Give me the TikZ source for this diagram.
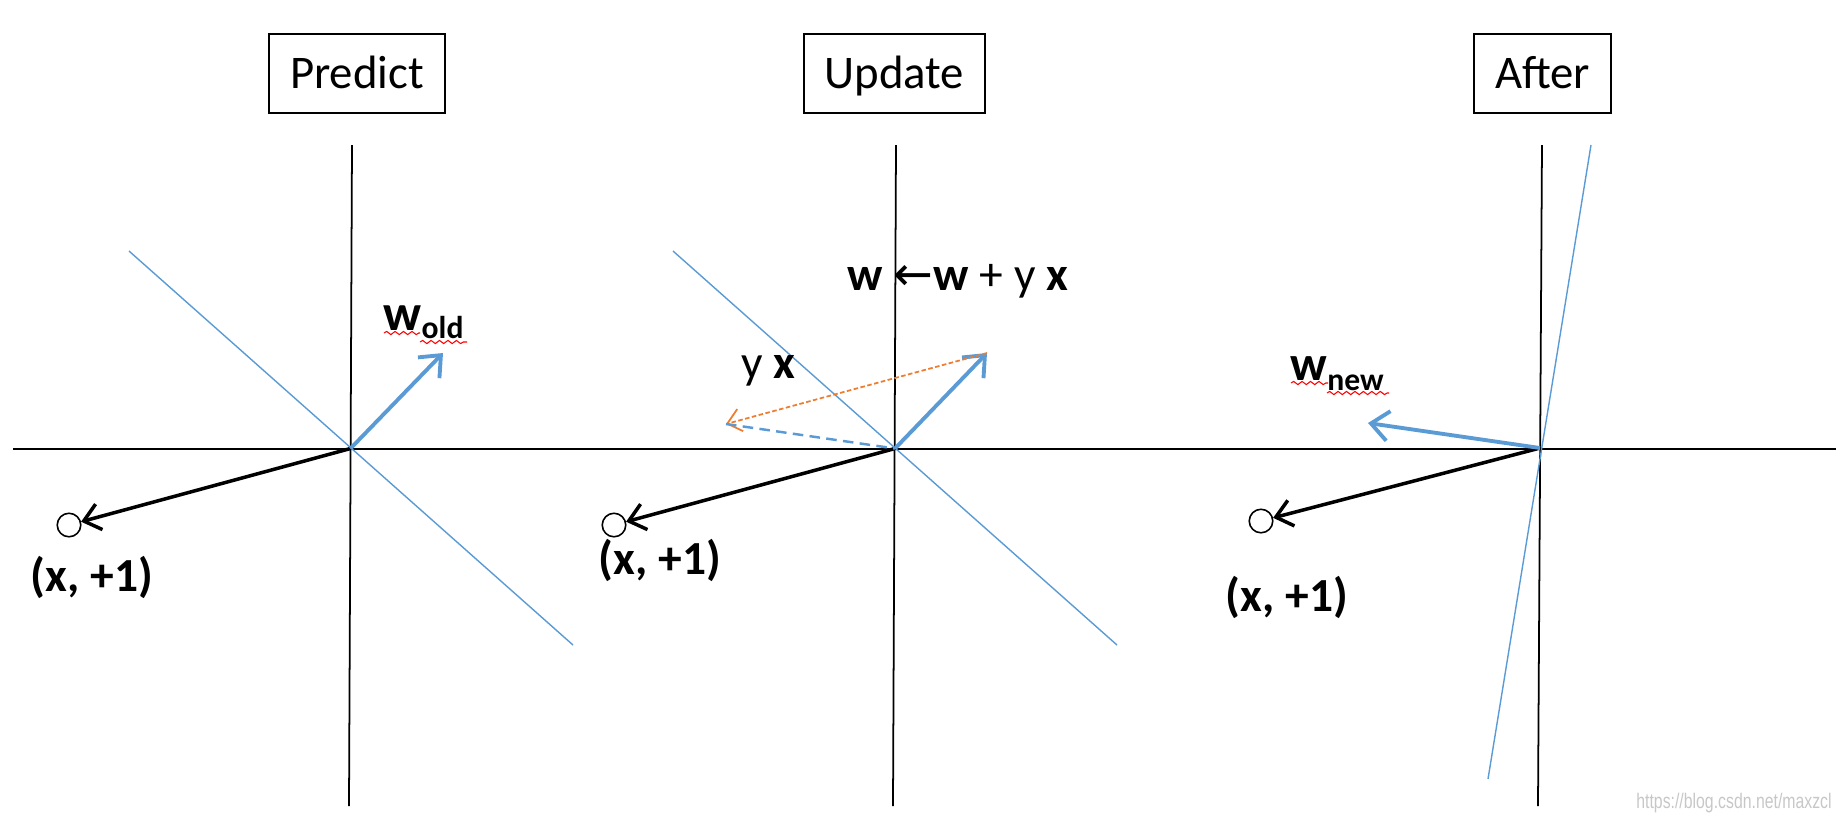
\documentclass[tikz,border=0pt]{standalone}
\usepackage{fontspec}
\setmainfont{Carlito}
\newfontfamily\arrowfont{DejaVu Sans}
\newfontfamily\wmfont{Liberation Sans}
\usetikzlibrary{arrows.meta,decorations.pathmorphing}
\definecolor{offblue}{RGB}{91,155,213}
\definecolor{offorange}{RGB}{237,125,49}
\begin{document}
\begin{tikzpicture}[x=0.01cm,y=-0.01cm,
  axis/.style={black, line width=0.5pt},
  sepline/.style={offblue, line width=0.4pt},
  wvec/.style={offblue, line width=1.1pt, -{Straight Barb[length=5pt,width=8.5pt]}},
  xvec/.style={black, line width=1pt, -{Straight Barb[length=4.5pt,width=7.5pt]}},
  ptnode/.style={circle, draw, line width=0.45pt, minimum size=0.235cm, inner sep=0pt},
  titlebox/.style={draw, line width=0.6pt, minimum height=0.79cm, inner xsep=0.21cm, text height=8.6pt, text depth=0pt, font=\fontsize{13.3}{16}\selectfont},
  lbl/.style={font=\fontsize{13.5}{16}\selectfont\bfseries, inner sep=0pt},
  txt/.style={font=\fontsize{13.5}{16}\selectfont, inner sep=0pt},
  squig/.style={red, line width=0.3pt, decorate, decoration={snake, amplitude=0.45pt, segment length=2.4pt}}]
\useasboundingbox (0,0) rectangle (1838,820);

% titles
\node[titlebox] (tp) at (357,73.5) {Predict};
\node[titlebox] (tu) at (894.5,73.5) {Update};
\node[titlebox] (ta) at (1542.5,73.5) {After};

% horizontal axis
\coordinate (hl) at (13,449);
\coordinate (hr) at (1836,449);
\draw[axis] (hl) -- (hr);

% origins
\coordinate (O1) at (350.5,448.5);
\coordinate (O2) at (895,448.5);
\coordinate (O3) at (1540,448);

% vertical axes
\coordinate (v1t) at (352,145); \coordinate (v1b) at (349,806);
\coordinate (v2t) at (896,145); \coordinate (v2b) at (893,806);
\coordinate (v3t) at (1542,145); \coordinate (v3b) at (1538,806);
\draw[axis] (v1t) -- (v1b);
\draw[axis] (v2t) -- (v2b);
\draw[axis] (v3t) -- (v3b);

% separating lines
\coordinate (s1t) at (129,251); \coordinate (s1b) at (573,645);
\coordinate (s2t) at (673,251); \coordinate (s2b) at (1117,645);
\coordinate (s3t) at (1591,145); \coordinate (s3b) at (1488,779);
\draw[sepline] (s1t) -- (s1b);
\draw[sepline] (s2t) -- (s2b);
\draw[sepline] (s3t) -- (s3b);

% points
\node[ptnode] (c1) at (69,525) {};
\node[ptnode] (c2) at (614,525) {};
\node[ptnode] (c3) at (1261,521) {};
\draw[xvec] (O1) -- (c1);
\draw[xvec] (O2) -- (c2);
\draw[xvec] (O3) -- (c3);

\node[lbl] (l1) at (92,577) {(x, +1)};
\node[lbl] (l2) at (660,560) {(x, +1)};
\node[lbl] (l3) at (1287,597) {(x, +1)};

% w vectors
\coordinate (W1) at (443,353);
\coordinate (W2) at (987,353);
\coordinate (W3) at (1368,423);
\coordinate (Y2) at (726,424);
\draw[wvec] (O1) -- (W1);
\draw[wvec] (O2) -- (W2);
\draw[wvec] (O3) -- (W3);
\draw[offorange, line width=0.5pt, dash pattern=on 1.3pt off 0.7pt, -{Straight Barb[length=3.8pt,width=6.5pt]}] (W2) -- (Y2);
\draw[offblue, line width=0.7pt, dash pattern=on 3pt off 1.8pt] (Y2) -- (O2);

% labels
\node[lbl, anchor=base west] (wold) at (383,330) {\fontsize{14.5}{16}\selectfont w\raisebox{-0.8mm}{\fontsize{9}{10}\selectfont old}};
\node[lbl, anchor=base west] (wnew) at (1290,380) {\fontsize{14}{16}\selectfont w\raisebox{-1mm}{\fontsize{9}{10}\selectfont new}};
\draw[squig] (384,333) -- (420,333);
\draw[squig] (420,342) -- (467,342);
\draw[squig] (1291,383) -- (1328,383);
\draw[squig] (1327,393) -- (1389,393);

\node[txt, anchor=base west] (yx) at (741,378) {y \textbf{x}};
\node[txt, anchor=base west] (rule) at (847,290) {\textbf{w} {\arrowfont ←}\textbf{w} + y \textbf{x}};

% watermark
\node[inner sep=0pt, text=black!22, font=\wmfont\fontsize{6}{7}\selectfont] (wm) at (1734,803) {\scalebox{0.75}[1]{https://blog.csdn.net/maxzcl}};
\end{tikzpicture}
\end{document}
